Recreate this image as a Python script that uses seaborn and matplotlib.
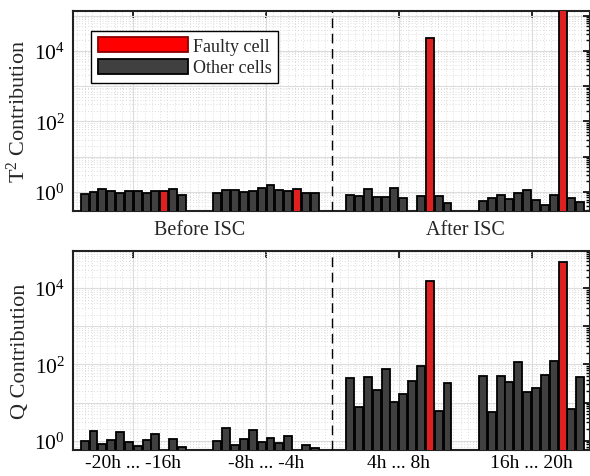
import numpy as np
import pandas as pd
import matplotlib
matplotlib.use('Agg')
import matplotlib.pyplot as plt
import matplotlib.transforms as mtransforms
from matplotlib.patches import Patch
from matplotlib.ticker import LogLocator, FuncFormatter, MultipleLocator, NullFormatter
import seaborn as sns

# T^2 contributions of the 12 cells
t2_before_a = [0.88, 0.98, 1.22, 1.05, 0.94, 1.09, 1.09, 0.94, 1.07, 1.09, 1.22, 0.82]
t2_before_b = [0.90, 1.16, 1.14, 1.00, 1.09, 1.30, 1.55, 1.10, 1.07, 1.22, 0.94, 0.94]
t2_after_a = [0.81, 0.75, 1.22, 0.72, 0.72, 1.30, 0.66, 0.25, 0.75, 2.3e4, 0.75, 0.47]
t2_after_b = [0.54, 0.69, 0.82, 0.62, 0.94, 1.14, 0.57, 0.41, 0.81, 2.0e5, 0.66, 0.50]

# Q contributions
q_m20 = [1.00, 1.76, 0.83, 1.06, 1.69, 0.90, 0.74, 1.04, 1.53, 0.30, 1.10, 0.68]
q_m8 = [1.00, 2.19, 0.75, 1.10, 1.90, 0.94, 1.18, 0.89, 1.30, 0.30, 0.79, 0.64]
q_p4 = [44, 7.5, 48, 21.4, 78, 10.5, 17, 37, 91, 1.5e4, 5.9, 33]
q_p16 = [51, 5.5, 51, 34, 113, 19, 24.6, 53, 125, 4.8e4, 6.9, 48]

faulty_cell = 9
n_cells = 12
group_step = 15

top_labels = ['Before ISC', 'After ISC']
bottom_labels = ['-20h ... -16h', '-8h ... -4h', '4h ... 8h', '16h ... 20h']

sns.set_style('white')
plt.rcParams['font.family'] = ['Liberation Serif', 'DejaVu Serif']
plt.rcParams['mathtext.fontset'] = 'custom'
plt.rcParams['mathtext.rm'] = 'Liberation Serif'
plt.rcParams['mathtext.it'] = 'Liberation Serif:italic'
plt.rcParams['mathtext.default'] = 'regular'

red = '#ff0000'
gray = '#404040'


def make_df(groups):
    rows = []
    for g, vals in enumerate(groups):
        for i, v in enumerate(vals):
            rows.append({'pos': g * group_step + i, 'val': v,
                         'kind': 'Faulty cell' if i == faulty_cell else 'Other cells'})
    return pd.DataFrame(rows)


def even_decades(v, p):
    e = int(round(np.log10(v)))
    return r'$10^{%d}$' % e if e % 2 == 0 else ''


def draw_panel(ax, groups, ylim, ylabel):
    df = make_df(groups)
    ax.set_yscale('log')
    sns.barplot(data=df, x='pos', y='val', hue='kind', native_scale=True, dodge=False,
                palette={'Faulty cell': red, 'Other cells': gray}, width=0.9,
                legend=False, ax=ax, zorder=3)
    for p in ax.patches:
        fc = p.get_facecolor()
        p.set_edgecolor('#8b0000' if fc[1] < 0.1 and fc[0] > 0.9 else 'black')
        p.set_linewidth(1.3)
    ax.set_xlim(-1.3, 57.1)
    ax.set_ylim(*ylim)
    ax.axvline(28, color='black', ls=(0, (7, 4)), lw=1.0, zorder=4)

    centers = [g * group_step + (n_cells - 1) / 2 for g in range(4)]
    ax.set_xticks(centers)
    ax.xaxis.set_minor_locator(MultipleLocator(0.85))
    ax.yaxis.set_major_locator(LogLocator(base=10, numticks=20))
    ax.yaxis.set_minor_locator(LogLocator(base=10, subs=np.arange(2, 10), numticks=20))
    ax.yaxis.set_major_formatter(FuncFormatter(even_decades))
    ax.yaxis.set_minor_formatter(NullFormatter())

    ax.grid(True, which='major', color='#dcdcdc', lw=0.8, ls='-', zorder=0)
    ax.grid(True, which='minor', color='#d2d2d2', lw=0.6, ls=(0, (1, 2.5)), zorder=0)
    ax.set_axisbelow(True)

    ax.tick_params(which='both', direction='in', top=True, right=True,
                   labelsize=14, colors='black', pad=6)
    ax.tick_params(axis='x', pad=3)
    ax.tick_params(axis='y', labelsize=15.5)
    ax.tick_params(which='major', length=5, width=1.2)
    ax.tick_params(axis='x', which='minor', length=0)
    ax.tick_params(axis='y', which='minor', length=3, width=1.0)
    for s in ax.spines.values():
        s.set_visible(True)
        s.set_color('#222222')
        s.set_linewidth(1.5)
    ax.set_xlabel('')
    ax.set_ylabel(ylabel, fontsize=16, labelpad=3)


fig = plt.figure(figsize=(5.9, 4.77), dpi=100)
ax1 = fig.add_axes([0.124, 0.556, 0.876, 0.419])
ax2 = fig.add_axes([0.124, 0.054, 0.876, 0.418])

draw_panel(ax1, [t2_before_a, t2_before_b, t2_after_a, t2_after_b], (0.29, 1.35e5),
           'T$^2$ Contribution')
draw_panel(ax2, [q_m20, q_m8, q_p4, q_p16], (0.56, 9.5e4), 'Q Contribution')

ax1.set_xticklabels(['', '', '', ''])
trans = mtransforms.blended_transform_factory(ax1.transData, ax1.transAxes)
for x, lab in zip([13, 43], top_labels):
    ax1.text(x, -0.045, lab, transform=trans, ha='center', va='top', fontsize=14.5)
ax2.set_xticklabels(bottom_labels, fontsize=14)

handles = [Patch(facecolor=red, edgecolor='#8b0000', lw=1.3, label='Faulty cell'),
           Patch(facecolor=gray, edgecolor='black', lw=1.3, label='Other cells')]
leg = ax1.legend(handles=handles, loc='upper left', bbox_to_anchor=(0.035, 0.9),
                 fontsize=13, handlelength=5.0, handleheight=0.9, handletextpad=0.3,
                 labelspacing=0.2, borderpad=0.35, fancybox=False, framealpha=1,
                 edgecolor='black', borderaxespad=0)
leg.get_frame().set_linewidth(1.0)
leg.set_zorder(10)

fig.savefig('out.png', dpi=100)
